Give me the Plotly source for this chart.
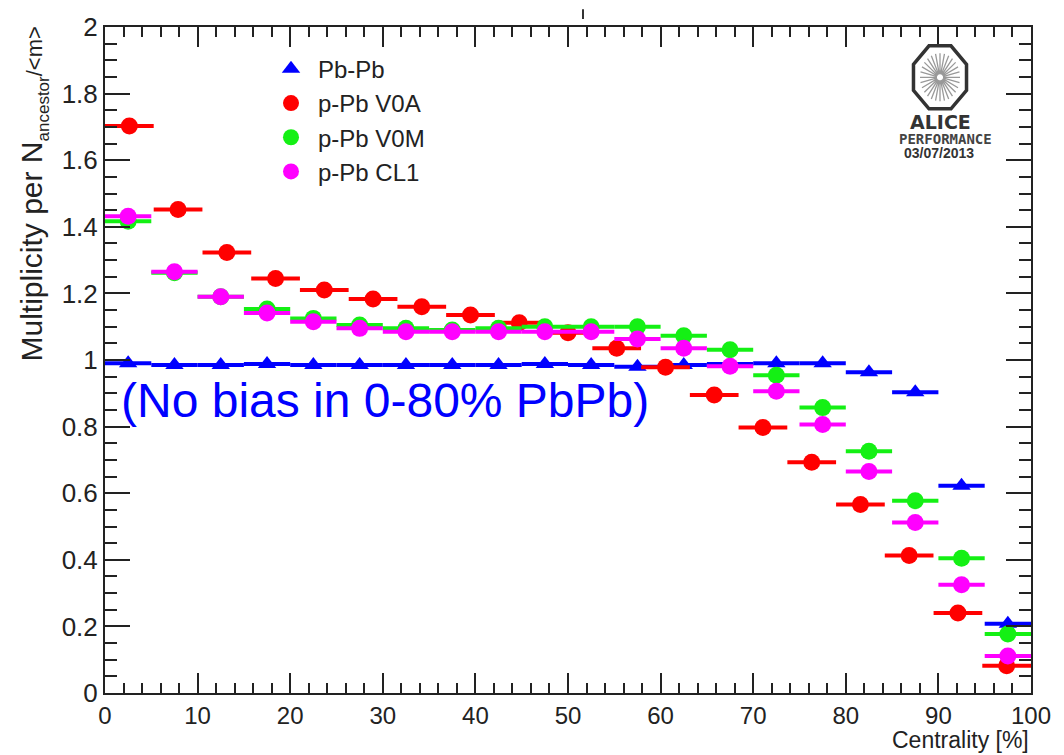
import math
import plotly.graph_objects as go

# ---------------- data ----------------
x_pbpb = [2.5, 7.5, 12.5, 17.5, 22.5, 27.5, 32.5, 37.5, 42.5, 47.5,
          52.5, 57.5, 62.5, 67.5, 72.5, 77.5, 82.5, 87.5, 92.5, 97.5]
y_pbpb = [0.99, 0.985, 0.985, 0.988, 0.985, 0.985, 0.985, 0.985, 0.985, 0.988,
          0.985, 0.98, 0.985, 0.988, 0.99, 0.99, 0.963, 0.903, 0.622, 0.208]
xerr_pbpb = [2.5] * 20

x_v0a = [2.63, 7.89, 13.16, 18.42, 23.68, 28.95, 34.21, 39.47, 44.74, 50.0,
         55.26, 60.53, 65.79, 71.05, 76.32, 81.58, 86.84, 92.11, 97.37]
y_v0a = [1.703, 1.452, 1.323, 1.245, 1.21, 1.183, 1.16, 1.135, 1.112, 1.082,
         1.035, 0.978, 0.895, 0.797, 0.693, 0.566, 0.413, 0.24, 0.082]
xerr_v0a = [2.63] * 19

x_v0m = x_pbpb
y_v0m = [1.417, 1.262, 1.19, 1.153, 1.125, 1.105, 1.095, 1.09, 1.095, 1.1,
         1.1, 1.1, 1.073, 1.031, 0.954, 0.857, 0.726, 0.577, 0.405, 0.177]
xerr_v0m = [2.5] * 20

x_cl1 = x_pbpb
y_cl1 = [1.432, 1.265, 1.19, 1.141, 1.115, 1.095, 1.085, 1.085, 1.085, 1.085,
         1.085, 1.063, 1.035, 0.981, 0.906, 0.806, 0.665, 0.512, 0.325, 0.111]
xerr_cl1 = [2.5] * 20

series = [
    ("Pb-Pb", x_pbpb, y_pbpb, xerr_pbpb, "rgb(0,0,255)", "triangle-up", 16),
    ("p-Pb V0A", x_v0a, y_v0a, xerr_v0a, "rgb(255,0,0)", "circle", 17),
    ("p-Pb V0M", x_v0m, y_v0m, xerr_v0m, "rgb(20,240,20)", "circle", 17),
    ("p-Pb CL1", x_cl1, y_cl1, xerr_cl1, "rgb(255,0,255)", "circle", 17),
]

FONT = "Liberation Sans, Arial, Helvetica, sans-serif"
W, H = 1064, 755
L, R, T, B = 105, 33, 18, 62
PW, PH = W - L - R, H - T - B


def px(xp):
    return (xp - L) / PW


def py(yp):
    return (H - B - yp) / PH


fig = go.Figure()
for name, xs, ys, xe, col, sym, sz in series:
    fig.add_trace(go.Scatter(
        x=xs, y=ys, mode="markers", name=name,
        marker=dict(color=col, symbol=sym, size=sz, line=dict(width=0)),
        error_x=dict(type="data", array=xe, symmetric=True,
                     thickness=4, width=0, color=col),
    ))

axis_common = dict(
    showline=True, linewidth=2, linecolor="#222", mirror="ticks",
    ticks="inside", tickcolor="#222", tickwidth=1.6,
    showgrid=False, zeroline=False,
)

fig.update_xaxes(range=[0, 100], dtick=10, tick0=0, ticklen=20,
                 tickfont=dict(family=FONT, size=24, color="#222"),
                 minor=dict(dtick=2, ticklen=10, ticks="inside", tickcolor="#222", tickwidth=1.6, showgrid=False),
                 **axis_common)
fig.update_yaxes(range=[0, 2], dtick=0.2, tick0=0, ticklen=25,
                 tickfont=dict(family=FONT, size=26, color="#222"),
                 minor=dict(dtick=0.05, ticklen=12, ticks="inside", tickcolor="#222", tickwidth=1.6, showgrid=False),
                 **axis_common)

ytitle = ("Multiplicity per N<sub><span style='font-size:17px'>ancestor</span></sub>"
          "<span style='font-size:22px'>/&lt;m&gt;</span>")

annotations = [
    dict(text="Centrality [%]", xref="paper", yref="paper", x=1.0, y=py(741),
         xanchor="right", yanchor="middle", showarrow=False,
         font=dict(family=FONT, size=23, color="#222")),
    dict(text=ytitle, xref="paper", yref="paper",
         x=px(34), y=py(16), xanchor="center", yanchor="top", textangle=-90, showarrow=False,
         font=dict(family=FONT, size=30, color="#222")),
    dict(text="(No bias in 0-80% PbPb)", xref="paper", yref="paper", x=px(119), y=py(397),
         xanchor="left", yanchor="middle", showarrow=False,
         font=dict(family=FONT, size=48, color="rgb(0,0,255)")),
    dict(text="<b>ALICE</b>", xref="paper", yref="paper", x=px(940), y=py(114),
         xanchor="center", yanchor="middle", showarrow=False,
         font=dict(family="DejaVu Sans, sans-serif", size=19, color="#333")),
    dict(text="<b>PERFORMANCE</b>", xref="paper", yref="paper", x=px(945), y=py(132),
         xanchor="center", yanchor="middle", showarrow=False,
         font=dict(family="DejaVu Sans Mono, monospace", size=14, color="#444")),
    dict(text="<b>03/07/2013</b>", xref="paper", yref="paper", x=px(939), y=py(146),
         xanchor="center", yanchor="middle", showarrow=False,
         font=dict(family=FONT, size=14, color="#333")),
]

# ALICE logo octagon + spokes (decoration, pixel-sized shapes)
cx, cy = px(940), py(69)
rx, ry = 28.7, 34.1
oct_pts = []
for k in range(8):
    a = math.radians(22.5 + 45 * k)
    oct_pts.append((rx * math.cos(a), ry * math.sin(a)))
oct_path = "M " + " L ".join(f"{x:.2f},{y:.2f}" for x, y in oct_pts) + " Z"
spokes = []
for k in range(28):
    a = 2 * math.pi * k / 28
    spokes.append(f"M {3*math.cos(a):.2f},{3*math.sin(a):.2f} L {20*math.cos(a):.2f},{24*math.sin(a):.2f}")
shapes = [
    dict(type="path", xref="paper", yref="paper", xsizemode="pixel", ysizemode="pixel",
         xanchor=cx, yanchor=cy, path=oct_path, line=dict(color="#333", width=3.5)),
    dict(type="path", xref="paper", yref="paper", xsizemode="pixel", ysizemode="pixel",
         xanchor=cx, yanchor=cy, path=" ".join(spokes), line=dict(color="#999", width=1.3)),
    dict(type="line", xref="paper", yref="paper", x0=px(583), x1=px(583), y0=py(0), y1=py(10),
         line=dict(color="#333", width=2)),
]

fig.update_layout(
    width=W, height=H,
    margin=dict(l=L, r=R, t=T, b=B),
    paper_bgcolor="white", plot_bgcolor="white",
    showlegend=True,
    legend=dict(x=px(264), y=py(38), xanchor="left", yanchor="top",
                bgcolor="rgba(0,0,0,0)", borderwidth=0,
                font=dict(family=FONT, size=24, color="#222"),
                tracegroupgap=0, itemwidth=44),
    annotations=annotations,
    shapes=shapes,
)

fig.write_html("out.html")
